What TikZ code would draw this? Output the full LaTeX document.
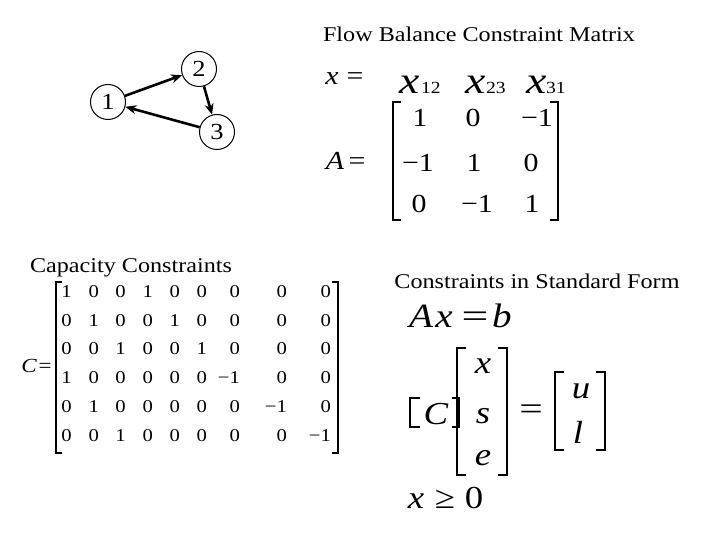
\documentclass[tikz,border=0pt]{standalone}
\usepackage{fontspec}
\setmainfont{Liberation Serif}
\usetikzlibrary{arrows.meta}
\newcommand\hstr[1]{\scalebox{1.15}[1]{#1}}
\newcommand\wstr[1]{\scalebox{1.6}[1]{#1}}
\tikzset{
  txt/.style={inner sep=0pt, anchor=base, font=\fontsize{#1}{#1}\selectfont},
  itx/.style={inner sep=0pt, anchor=base, font=\fontsize{#1}{#1}\selectfont\itshape},
  vert/.style={draw, circle, minimum size=35pt, inner sep=0pt, line width=1pt, font=\fontsize{23}{23}\selectfont},
  arr/.style={line width=2.6pt, -{Stealth[length=11pt,width=9pt]}},
  brk/.style={line width=1.3pt},
  thickbrk/.style={line width=2.8pt},
}
\begin{document}
\begin{tikzpicture}[x=1pt,y=-1pt]
\useasboundingbox (0,0) rectangle (720,540);

% graph
\node[vert] (n1) at (108,102) {\hstr{1}};
\node[vert] (n2) at (199,69) {\hstr{2}};
\node[vert] (n3) at (217,132) {\hstr{3}};
\draw[arr] (n1) -- (n2);
\draw[arr] (n2) -- (n3);
\draw[arr] (n3) -- (n1);

% titles
\node[txt=21] (title) at (479,42) {\hstr{Flow Balance Constraint Matrix}};
\node[txt=21] (captitle) at (131,272) {\hstr{Capacity Constraints}};
\node[txt=21] (stdtitle) at (537,288) {\hstr{Constraints in Standard Form}};

% x = and A =
\node[itx=26] (xlab) at (332,85) {\hstr{x}};
\node[txt=26] (xeq) at (355,85) {\hstr{=}};
\node[itx=26] (Alab) at (335,170) {\hstr{A}};
\node[txt=26] (Aeq) at (357,170) {\hstr{=}};

% x12 x23 x31
\node[itx=38] (x12) at (410,94) {\scalebox{1.2}[1]{x}};
\node[txt=17, anchor=base west] (s12) at (421,94) {\hstr{12}};
\node[itx=38] (x23) at (476,94) {\scalebox{1.2}[1]{x}};
\node[txt=17, anchor=base west] (s23) at (486,94) {\hstr{23}};
\node[itx=38] (x31) at (537,94) {\scalebox{1.2}[1]{x}};
\node[txt=17, anchor=base west] (s31) at (546,94) {\hstr{31}};

% matrix A
\draw[brk] (401,102) -- (393,102) -- (393,220) -- (401,220);
\draw[brk] (550,102) -- (558,102) -- (558,220) -- (550,220);
\node[txt=26] (a11) at (420,127) {\hstr{1}};
\node[txt=26] (a12) at (473,127) {\hstr{0}};
\node[txt=26] (a13) at (537,127) {\hstr{−1}};
\node[txt=26] (a21) at (418,172) {\hstr{−1}};
\node[txt=26] (a22) at (474,172) {\hstr{1}};
\node[txt=26] (a23) at (531,172) {\hstr{0}};
\node[txt=26] (a31) at (419,212) {\hstr{0}};
\node[txt=26] (a32) at (477,212) {\hstr{−1}};
\node[txt=26] (a33) at (532,212) {\hstr{1}};

% matrix C
\node[itx=20] (Clab) at (29,372) {\hstr{C}};
\node[txt=20] (Ceq) at (45,372) {\hstr{=}};
\draw[brk] (62,282) -- (56,282) -- (56,453) -- (62,453);
\draw[brk] (332,282) -- (338,282) -- (338,453) -- (332,453);
\foreach \row [count=\r] in {{1,0,0,1,0,0,0,0,0},{0,1,0,0,1,0,0,0,0},{0,0,1,0,0,1,0,0,0},{1,0,0,0,0,0,−1,0,0},{0,1,0,0,0,0,0,−1,0},{0,0,1,0,0,0,0,0,−1}}
  \foreach \v [count=\c] in \row {
    \pgfmathsetmacro\xx{{66.7,94,120.7,148,175,202,235,282,326}[\c-1]+5.2}
    \pgfmathsetmacro\yy{297.5+28.7*(\r-1)}
    \node[txt=18, anchor=base east] (c\r-\c) at (\xx,\yy) {\hstr{\v}};
  }

% standard form
\node[itx=34] (eA) at (421,327) {\hstr{A}};
\node[itx=34] (ex) at (444,327) {\hstr{x}};
\node[txt=34] (eeq) at (475,327) {\scalebox{1.4}[1]{=}};
\node[itx=34] (eb) at (502,327) {\hstr{b}};

\draw[thickbrk] (420,398) -- (410,398) -- (410,427) -- (420,427);
\node[itx=32] (eC) at (436,424) {\hstr{C}};
\draw[thickbrk] (452,398) -- (459,398) -- (459,427) -- (452,427);

\draw[brk] (466,348) -- (457,348) -- (457,475) -- (466,475);
\draw[brk] (498,348) -- (507,348) -- (507,475) -- (498,475);
\node[itx=32] (vx) at (483,373) {\hstr{x}};
\node[itx=32] (vs) at (483,423) {\hstr{s}};
\node[itx=32] (ve) at (483,465) {\hstr{e}};

\node[txt=32] (veq) at (531,419) {\scalebox{1.3}[1]{=}};

\draw[brk] (564,372) -- (555,372) -- (555,450) -- (564,450);
\draw[brk] (596,372) -- (605,372) -- (605,450) -- (596,450);
\node[itx=32] (vu) at (581,398) {\hstr{u}};
\node[itx=32] (vl) at (578,443) {\hstr{l}};

\node[itx=32] (gx) at (416,508) {\hstr{x}};
\node[txt=32] (gge) at (445,508) {\hstr{≥}};
\node[txt=32] (g0) at (474,508) {\hstr{0}};
\end{tikzpicture}
\end{document}
